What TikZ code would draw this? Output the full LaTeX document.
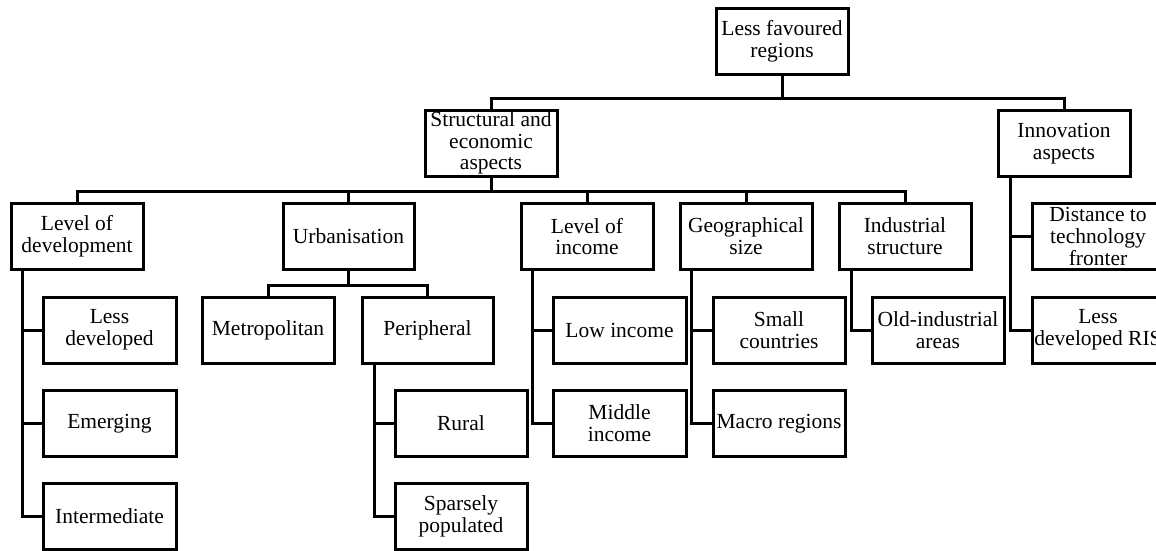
\documentclass[tikz,border=0pt]{standalone}
\usepackage{fontspec}
\setmainfont{Liberation Serif}
\begin{document}
\begin{tikzpicture}[x=1pt,y=-1pt,
  box/.style={draw=black, line width=3pt, fill=white, minimum width=132pt, minimum height=66pt,
    inner sep=0pt, align=center, font=\fontsize{21.5}{21.8}\selectfont},
  link/.style={draw=black, line width=3pt}]
\useasboundingbox (0,0) rectangle (1156,550);
\clip (0,0) rectangle (1156,550);
% level 0
\node[box] (top) at (782,41) {Less favoured\\regions};
% level 1
\node[box] (struct) at (491,143) {Structural and\\economic\\aspects};
\node[box] (innov) at (1064,143.5) {Innovation\\aspects};
% level 2
\node[box] (lod) at (77,236.5) {Level of\\development};
\node[box, minimum width=131pt] (urb) at (348.5,236.5) {Urbanisation};
\node[box] (loi) at (587,236.5) {Level of\\income};
\node[box] (geo) at (746,236.5) {Geographical\\size};
\node[box] (ind) at (905,236.5) {Industrial\\structure};
\node[box] (dist) at (1098,236.5) {Distance to\\technology\\fronter};
% level 3
\node[box, minimum width=133pt] (lessdev) at (109.5,330) {Less\\developed};
\node[box, minimum width=133pt] (emerg) at (109.5,423.5) {Emerging};
\node[box, minimum width=133pt] (inter) at (109.5,516.5) {Intermediate};
\node[box] (metro) at (268,330) {Metropolitan};
\node[box, minimum width=131pt] (periph) at (427.5,330) {Peripheral};
\node[box] (rural) at (461,423.5) {Rural};
\node[box] (sparse) at (461,516.5) {Sparsely\\populated};
\node[box, minimum width=133pt] (lowinc) at (619.5,330) {Low income};
\node[box, minimum width=133pt] (midinc) at (619.5,423.5) {Middle\\income};
\node[box] (small) at (779,330) {Small\\countries};
\node[box] (macro) at (779,423.5) {Macro regions};
\node[box] (oldind) at (938,330) {Old-industrial\\areas};
\node[box] (lessris) at (1098,330) {Less\\developed RIS};
% connectors level 0 -> 1
\draw[link] (top.south) -- ++(0,23) coordinate (j0) -| (struct.north);
\draw[link] (j0) -| (innov.north);
% level 1 -> 2 (structural)
\draw[link] (struct.south) -- ++(0,14) coordinate (j1) -| (lod.north);
\draw[link] (j1) -| (urb.north);
\draw[link] (j1) -| (loi.north);
\draw[link] (j1) -| (geo.north);
\draw[link] (j1) -| (ind.north);
% urbanisation
\draw[link] (urb.south) -- ++(0,14) coordinate (j2) -| (metro.north);
\draw[link] (j2) -| (periph.north);
% side trunks
\draw[link] ([xshift=13pt]lod.south west) |- (inter.west);
\draw[link] ([xshift=13pt]lod.south west) |- (lessdev.west);
\draw[link] ([xshift=13pt]lod.south west) |- (emerg.west);
\draw[link] ([xshift=14pt]periph.south west) |- (sparse.west);
\draw[link] ([xshift=14pt]periph.south west) |- (rural.west);
\draw[link] ([xshift=13pt]loi.south west) |- (midinc.west);
\draw[link] ([xshift=13pt]loi.south west) |- (lowinc.west);
\draw[link] ([xshift=13pt]geo.south west) |- (macro.west);
\draw[link] ([xshift=13pt]geo.south west) |- (small.west);
\draw[link] ([xshift=14pt]ind.south west) |- (oldind.west);
\draw[link] ([xshift=14pt]innov.south west) |- (lessris.west);
\draw[link] ([xshift=14pt]innov.south west) |- (dist.west);
\end{tikzpicture}
\end{document}
